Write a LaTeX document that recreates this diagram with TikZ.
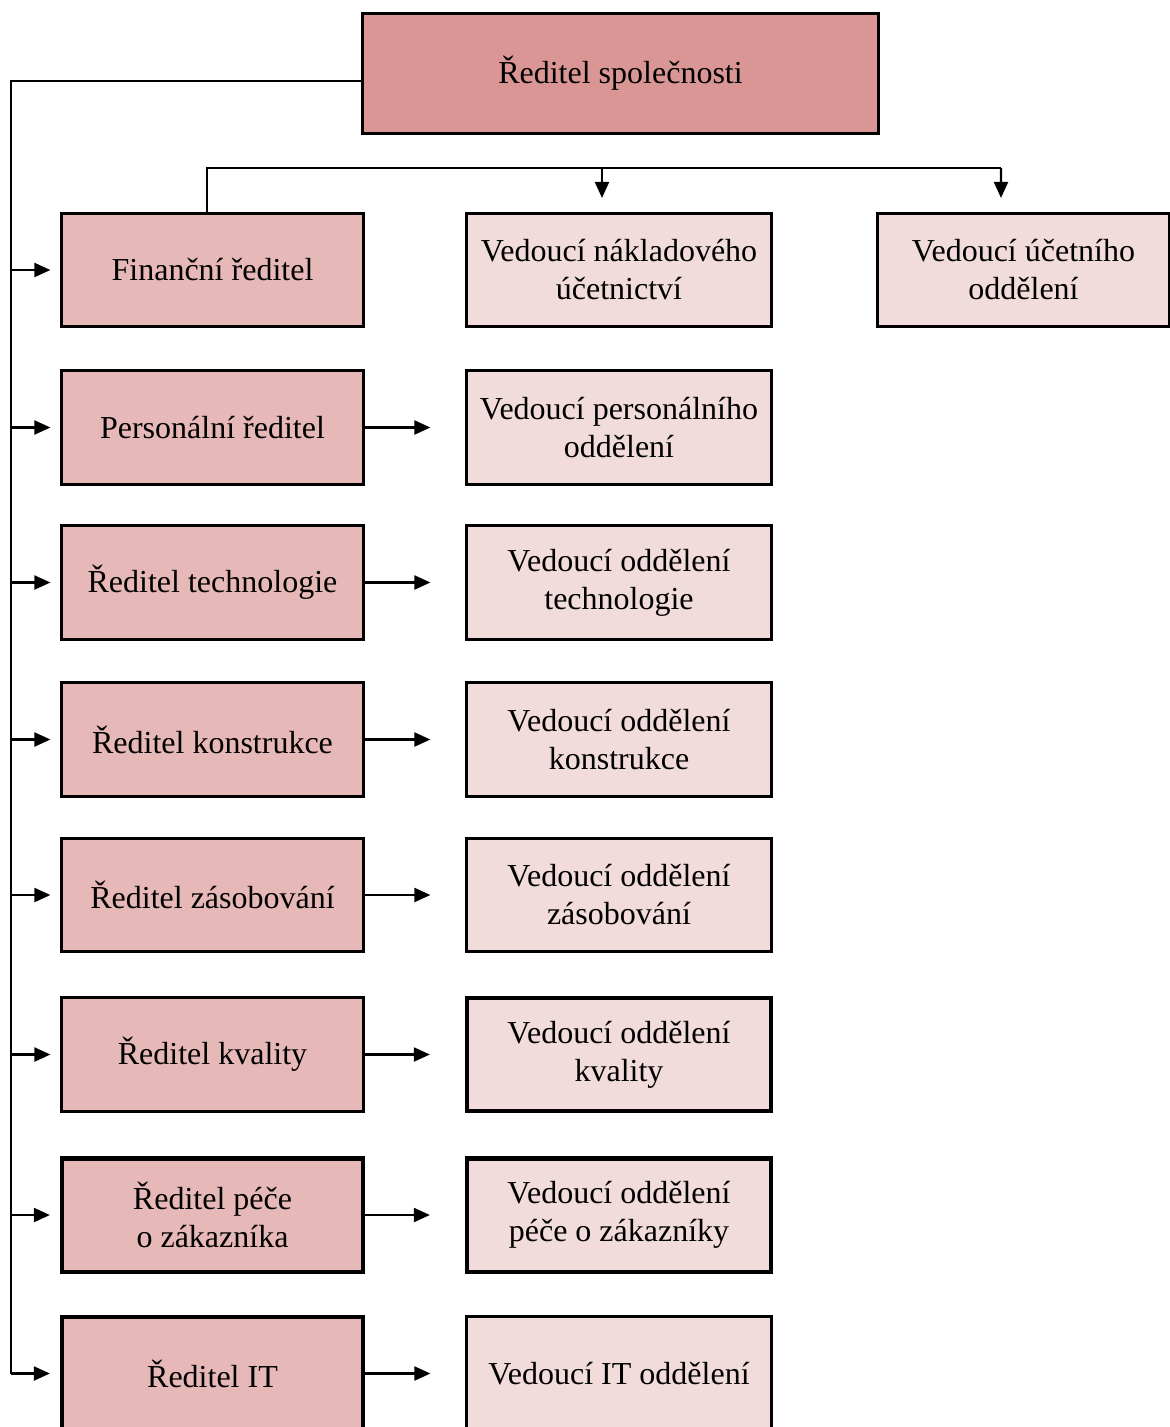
\documentclass[tikz,border=0pt]{standalone}
\usepackage{fontspec}
\setmainfont{Liberation Serif}
\usepackage{tikz}
\usetikzlibrary{calc, arrows.meta}

\definecolor{topfill}{RGB}{217,150,148}
\definecolor{leftfill}{RGB}{230,185,184}
\definecolor{midfill}{RGB}{242,220,219}

\tikzset{
    box/.style={draw=black, line width=0.85pt, align=center, inner sep=0pt,
        font=\fontsize{9.1pt}{10.8pt}\selectfont},
    ridbox/.style={box, fill=leftfill, minimum width=3.01cm, minimum height=1.13cm},
    vedbox/.style={box, fill=midfill, minimum width=3.04cm, minimum height=1.13cm},
    heavy/.style={line width=1.15pt},
    arr/.style={line width=0.6pt, -{Triangle[length=1.6mm, width=1.4mm]}},
    link/.style={line width=0.6pt}
}

\begin{document}
\begin{tikzpicture}[x=0.01cm, y=-0.01cm]
            \useasboundingbox (0,0) rectangle (1170,1427);

            \node[box, fill=topfill, minimum width=5.15cm, minimum height=1.19cm] (ceo) at (620.5,73.5) {Ředitel společnosti};

            \node[ridbox] (fin) at (212.5,270) {Finanční ředitel};
            \node[ridbox] (pers) at (212.5,427.5) {Personální ředitel};
            \node[ridbox] (tech) at (212.5,582.5) {Ředitel technologie};
            \node[ridbox] (kons) at (212.5,739.5) {Ředitel konstrukce};
            \node[ridbox] (zas) at (212.5,895) {Ředitel zásobování};
            \node[ridbox] (kval) at (212.5,1054.5) {Ředitel kvality};
            \node[ridbox, heavy] (pece) at (212.5,1215) {Ředitel péče\\o zákazníka};
            \node[ridbox, heavy] (it) at (212.5,1373.5) {Ředitel IT};

            \node[vedbox] (vnak) at (619,270) {Vedoucí nákladového\\účetnictví};
            \node[vedbox, minimum width=2.91cm] (vuc) at (1023.5,270) {Vedoucí účetního\\oddělení};
            \node[vedbox] (vpers) at (619,427.5) {Vedoucí personálního\\oddělení};
            \node[vedbox] (vtech) at (619,582.5) {Vedoucí oddělení\\technologie};
            \node[vedbox] (vkons) at (619,739.5) {Vedoucí oddělení\\konstrukce};
            \node[vedbox] (vzas) at (619,895) {Vedoucí oddělení\\zásobování};
            \node[vedbox, heavy] (vkval) at (619,1054.5) {Vedoucí oddělení\\kvality};
            \node[vedbox, heavy] (vpece) at (619,1215) {Vedoucí oddělení\\péče o zákazníky};
            \node[vedbox] (vit) at (619,1373.5) {Vedoucí IT oddělení};

            % levá sběrnice
            \coordinate (trunk) at (11,81);
            \draw[link] (ceo.west |- trunk) -- (trunk) -- (trunk |- it.west);
            \draw[arr] (trunk |- fin.west) -- ([xshift=-0.1cm]fin.west);
            \draw[arr] (trunk |- pers.west) -- ([xshift=-0.1cm]pers.west);
            \draw[arr] (trunk |- tech.west) -- ([xshift=-0.1cm]tech.west);
            \draw[arr] (trunk |- kons.west) -- ([xshift=-0.1cm]kons.west);
            \draw[arr] (trunk |- zas.west) -- ([xshift=-0.1cm]zas.west);
            \draw[arr] (trunk |- kval.west) -- ([xshift=-0.1cm]kval.west);
            \draw[arr] (trunk |- pece.west) -- ([xshift=-0.1cm]pece.west);
            \draw[arr] (trunk |- it.west) -- ([xshift=-0.1cm]it.west);

            % finanční ředitel
            \coordinate (bus) at (1001,168);
            \draw[link] ([xshift=-0.055cm]fin.north) |- (bus);
            \draw[arr] ([xshift=-0.17cm]vnak.north |- bus) -- ([xshift=-0.17cm, yshift=0.14cm]vnak.north);
            \draw[arr] (bus) -- ([xshift=-0.225cm, yshift=0.14cm]vuc.north);

            % ředitelé -> vedoucí
            \draw[arr] (pers.east) -- ([xshift=-0.35cm]vpers.west);
            \draw[arr] (tech.east) -- ([xshift=-0.35cm]vtech.west);
            \draw[arr] (kons.east) -- ([xshift=-0.35cm]vkons.west);
            \draw[arr] (zas.east) -- ([xshift=-0.35cm]vzas.west);
            \draw[arr] (kval.east) -- ([xshift=-0.35cm]vkval.west);
            \draw[arr] (pece.east) -- ([xshift=-0.35cm]vpece.west);
            \draw[arr] (it.east) -- ([xshift=-0.35cm]vit.west);
        \end{tikzpicture}
\end{document}
